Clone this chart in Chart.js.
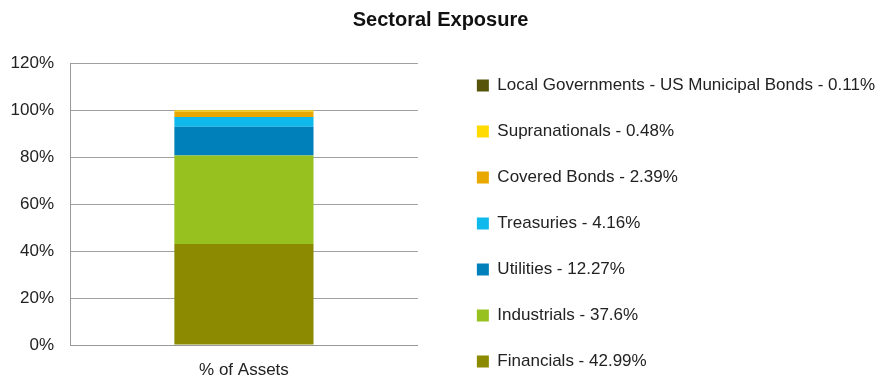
<!DOCTYPE html>
<html>
<head>
<meta charset="utf-8">
<script src="https://cdn.jsdelivr.net/npm/chart.js@4.4.0/dist/chart.umd.min.js"></script>
<style>
  html, body { margin: 0; padding: 0; background: #fff; }
  #wrap { width: 881px; height: 377px; }
</style>
</head>
<body>
<div id="wrap"><canvas id="sectors"></canvas></div>
<script>
// Sectoral exposure, stacked from the bottom
categories = ['% of Assets']
sectors = ['Financials', 'Industrials', 'Utilities', 'Treasuries', 'Covered Bonds', 'Supranationals', 'Local Governments - US Municipal Bonds']
weights = [42.99, 37.6, 12.27, 4.16, 2.39, 0.48, 0.11]
colours = ['#8b8a00', '#96c11f', '#0080ba', '#0fb9ec', '#e9a800', '#ffdb00', '#55540a']
yTicks = [0, 20, 40, 60, 80, 100, 120]

datasets = []
for (let i = 0; i < sectors.length; i++) {
    datasets.push({
        label: sectors[i] + ' - ' + weights[i] + '%',
        data: [weights[i]],
        backgroundColor: colours[i],
        borderWidth: 0,
        barPercentage: 0.4,
        categoryPercentage: 1.0
    })
}

Chart.defaults.font.family = '"Liberation Sans", Arial, sans-serif'
Chart.defaults.color = '#222'

config = {
    type: 'bar',
    data: {
        labels: categories,
        datasets: datasets
    },
    options: {
        responsive: true,
        maintainAspectRatio: false,
        animation: false,
        // negative bottom lets the legend column sit lower
        layout: { padding: { left: -4, right: -4, top: 0, bottom: -22 } },
        plugins: {
            title: {
                display: true,
                text: 'Sectoral Exposure',
                font: { size: 20, weight: 'bold' },
                color: '#111',
                padding: { top: 8, bottom: 31 }
            },
            legend: {
                position: 'right',
                reverse: true,
                align: 'end',
                maxWidth: 460,
                labels: {
                    boxWidth: 12,
                    boxHeight: 12,
                    padding: 29,
                    font: { size: 17 },
                    color: '#222'
                }
            },
            tooltip: { enabled: false }
        },
        scales: {
            x: {
                stacked: true,
                grid: { display: false, drawTicks: false },
                border: { color: '#999' },
                ticks: { font: { size: 17 }, color: '#222', padding: 15 },
                afterFit: function (axis) { axis.height = 54 }
            },
            y: {
                stacked: true,
                min: 0,
                max: 120,
                afterBuildTicks: function (axis) {
                    axis.ticks = yTicks.map(function (v) { return { value: v } })
                },
                grid: { color: '#a0a0a0', drawTicks: false },
                border: { color: '#999' },
                ticks: {
                    font: { size: 17 },
                    color: '#222',
                    padding: 16,
                    callback: function (v) { return v + '%' }
                },
                afterFit: function (axis) { axis.width = 74 }
            },
            // empty spacer between plot and legend
            gap: {
                position: 'right',
                display: true,
                grid: { display: false },
                border: { display: false },
                ticks: { display: false },
                afterFit: function (axis) { axis.width = 30 }
            }
        }
    }
}
new Chart(document.getElementById('sectors'), config)
</script>
</body>
</html>
